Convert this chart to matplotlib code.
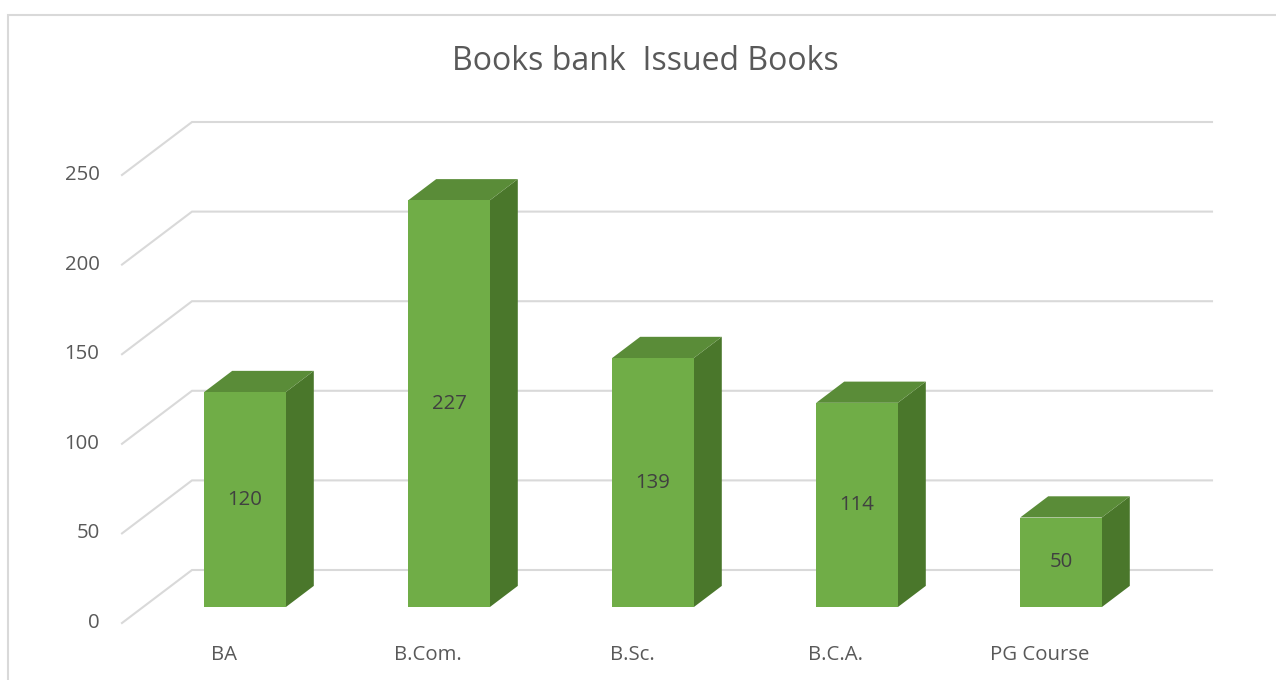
import matplotlib.pyplot as plt
from matplotlib.patches import Polygon, Rectangle

# chart data
categories = ['BA', 'B.Com.', 'B.Sc.', 'B.C.A.', 'PG Course']
issued = [120, 227, 139, 114, 50]
y_ticks = [0, 50, 100, 150, 200, 250]
title = 'Books bank  Issued Books'

# layout of the fake 3d box, in pixels
W, H = 1276, 680
front_left = 122      # x of category -0.5 on the front plane
cat_px = 204          # width of one category
zero_px = 623         # y (from top) of value 0 on front plane
val_px = 1.792        # pixels per unit value
depth_dx, depth_dy = 70, 53   # full depth offset of the box

DX = depth_dx / cat_px
DY = depth_dy / val_px

text_col = '#595959'
grid_col = '#D9D9D9'
front_col = '#70AD47'
top_col = '#5A8C38'
side_col = '#4A772B'
lbl_size = 14.7

plt.rcParams['font.family'] = ['Open Sans', 'DejaVu Sans']

fig = plt.figure(figsize=(W / 100, H / 100), dpi=100)
ax = fig.add_axes([0, 0, 1, 1])
ax.set_xlim(-0.5 - front_left / cat_px, -0.5 + (W - front_left) / cat_px)
ax.set_ylim(-(H - zero_px) / val_px, zero_px / val_px)
ax.axis('off')


def proj(x, v, d):
    # oblique projection: x category units, v value, d depth 0..1
    return (x + d * DX, v + d * DY)


n = len(categories)
x0, x1 = -0.5, n - 0.5

# chart border (left + top visible)
fig.patches.append(Rectangle((8 / W, -0.1), 1.2, 1 - 15 / H + 0.1,
                             transform=fig.transFigure, fill=False,
                             edgecolor=grid_col, lw=1.5))

# gridlines: diagonal on the side wall, horizontal on the back wall
for t in y_ticks:
    a = proj(x0, t, 0)
    b = proj(x0, t, 1)
    c = proj(x1, t, 1)
    ax.plot([a[0], b[0], c[0]], [a[1], b[1], c[1]], color=grid_col, lw=1.5,
            solid_joinstyle='miter', zorder=1)
    ax.text(a[0] - 0.11, t, str(t), ha='right', va='center', fontsize=lbl_size,
            color=text_col)

# bars
half_w = 0.2
d0, d1 = 0.30, 0.70
for i, v in enumerate(issued):
    l, r = i - half_w, i + half_w
    front = [proj(l, 0, d0), proj(r, 0, d0), proj(r, v, d0), proj(l, v, d0)]
    side = [proj(r, 0, d0), proj(r, 0, d1), proj(r, v, d1), proj(r, v, d0)]
    top = [proj(l, v, d0), proj(r, v, d0), proj(r, v, d1), proj(l, v, d1)]
    ax.add_patch(Polygon(side, closed=True, facecolor=side_col, edgecolor='none', zorder=3))
    ax.add_patch(Polygon(top, closed=True, facecolor=top_col, edgecolor='none', zorder=3))
    ax.add_patch(Polygon(front, closed=True, facecolor=front_col, edgecolor='none', zorder=4))
    cx, cy = proj(i, v / 2, d0)
    ax.text(cx, cy, str(v), ha='center', va='center', fontsize=lbl_size,
            color='#404040', zorder=5)
    ax.text(i, -18, categories[i], ha='center', va='center', fontsize=lbl_size,
            color=text_col)

fig.text(645 / W, 1 - 61 / H, title, ha='center', va='center', fontsize=23,
         color=text_col)

fig.savefig('out.png', dpi=100)
